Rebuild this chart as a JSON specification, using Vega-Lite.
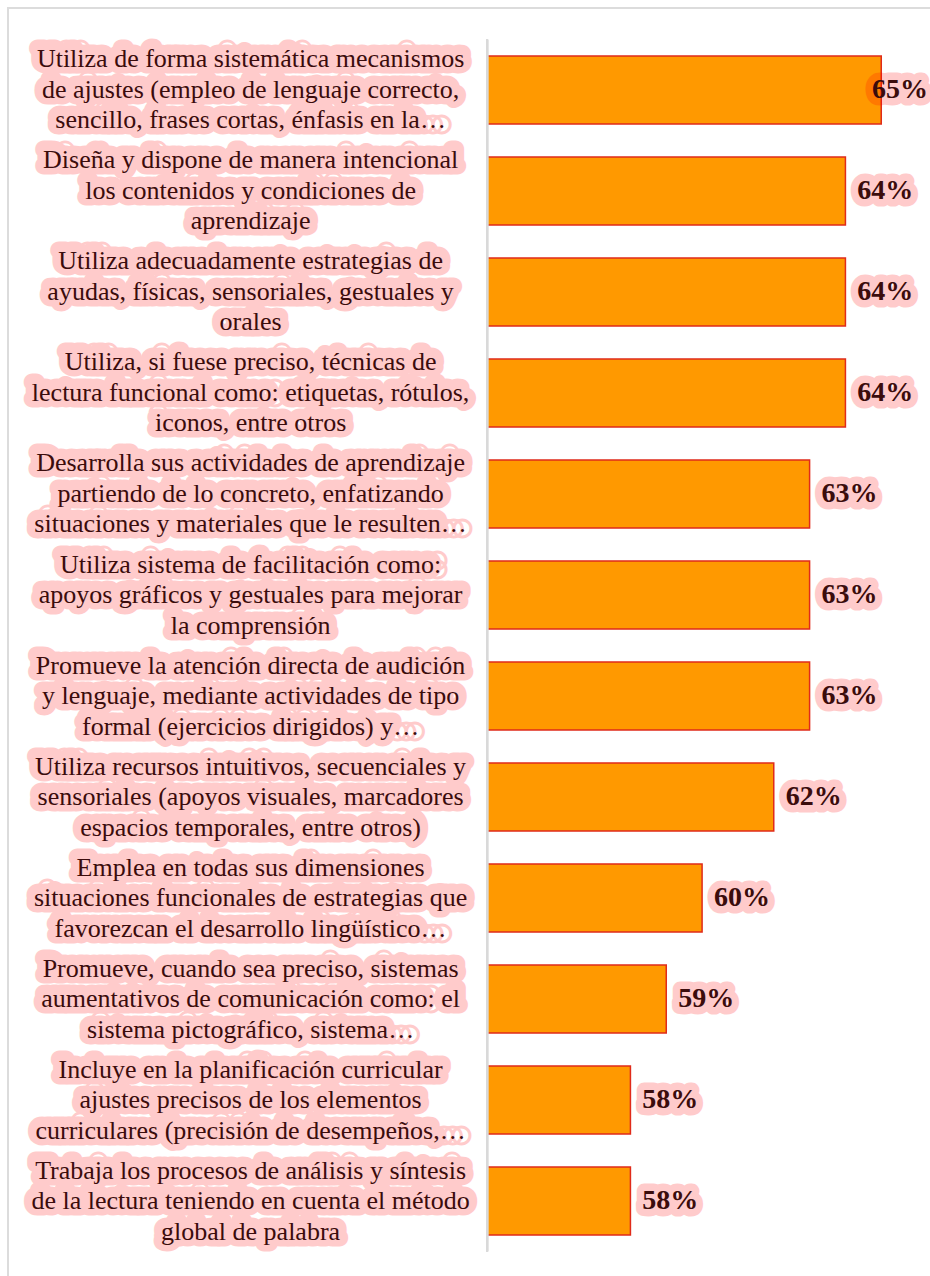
{
  "$schema": "https://vega.github.io/schema/vega-lite/v6.json",
  "width": 924,
  "height": 1270,
  "autosize": "none",
  "padding": {"left": 8, "top": 8, "right": 0, "bottom": 0},
  "background": "white",
  "config": {"view": {"stroke": "#dcdcdc", "strokeWidth": 2}},
  "data": {
    "values": [
      {"item": "Utiliza de forma sistemática mecanismos\nde ajustes (empleo de lenguaje correcto,\nsencillo, frases cortas, énfasis en la…", "pct": 0.65},
      {"item": "Diseña y dispone de manera intencional\nlos contenidos y condiciones de\naprendizaje", "pct": 0.64},
      {"item": "Utiliza adecuadamente estrategias de\nayudas, físicas, sensoriales, gestuales y\norales", "pct": 0.64},
      {"item": "Utiliza, si fuese preciso, técnicas de\nlectura funcional como: etiquetas, rótulos,\niconos, entre otros", "pct": 0.64},
      {"item": "Desarrolla sus actividades de aprendizaje\npartiendo de lo concreto, enfatizando\nsituaciones y materiales que le resulten…", "pct": 0.63},
      {"item": "Utiliza sistema de facilitación como:\napoyos gráficos y gestuales para mejorar\nla comprensión", "pct": 0.63},
      {"item": "Promueve la atención directa de audición\ny lenguaje, mediante actividades de tipo\nformal (ejercicios dirigidos) y…", "pct": 0.63},
      {"item": "Utiliza recursos intuitivos, secuenciales y\nsensoriales (apoyos visuales, marcadores\nespacios temporales, entre otros)", "pct": 0.62},
      {"item": "Emplea en todas sus dimensiones\nsituaciones funcionales de estrategias que\nfavorezcan el desarrollo lingüístico…", "pct": 0.60},
      {"item": "Promueve, cuando sea preciso, sistemas\naumentativos de comunicación como: el\nsistema pictográfico, sistema…", "pct": 0.59},
      {"item": "Incluye en la planificación curricular\najustes precisos de los elementos\ncurriculares (precisión de desempeños,…", "pct": 0.58},
      {"item": "Trabaja los procesos de análisis y síntesis\nde la lectura teniendo en cuenta el método\nglobal de palabra", "pct": 0.58}
    ]
  },
  "encoding": {
    "y": {
      "field": "item",
      "type": "nominal",
      "sort": null,
      "axis": null,
      "scale": {"paddingInner": 0.327, "paddingOuter": 0.4505, "align": 0.5275}
    }
  },
  "resolve": {"scale": {"x": "independent"}},
  "layer": [
    {
      "mark": {"type": "bar", "fill": "#ff9900", "stroke": "#e02b1a", "strokeWidth": 1.5},
      "encoding": {
        "x": {"field": "pct", "type": "quantitative", "axis": null, "scale": {"domain": [0.4063, 0.66416]}},
        "x2": {"datum": 0.54}
      }
    },
    {
      "mark": {"type": "text", "font": "Liberation Serif", "fontSize": 26, "lineHeight": 30.5, "lineBreak": "\n", "align": "center", "baseline": "middle", "fill": "#ff0000", "stroke": "#ff0000", "strokeWidth": 17, "strokeJoin": "round", "opacity": 0.2, "dy": -32.5},
      "encoding": {
        "x": {"datum": 0.474, "type": "quantitative", "axis": null, "scale": {"domain": [0.4063, 0.66416]}},
        "text": {"field": "item"}
      }
    },
    {
      "mark": {"type": "text", "font": "Liberation Serif", "fontSize": 26, "lineHeight": 30.5, "lineBreak": "\n", "align": "center", "baseline": "middle", "fill": "#3b0c0c", "dy": -30.5},
      "encoding": {
        "x": {"datum": 0.474, "type": "quantitative", "axis": null, "scale": {"domain": [0.4063, 0.66416]}},
        "text": {"field": "item"}
      }
    },
    {
      "mark": {"type": "text", "font": "Liberation Serif", "fontSize": 28, "fontWeight": "bold", "align": "left", "baseline": "middle", "dx": 12, "fill": "#ff0000", "stroke": "#ff0000", "strokeWidth": 15, "strokeJoin": "round", "opacity": 0.2},
      "encoding": {
        "x": {"field": "pct", "type": "quantitative", "axis": null, "scale": {"domain": [0.4063, 0.6441], "range": [0, 852], "clamp": true}},
        "text": {"field": "pct", "type": "quantitative", "format": ".0%"}
      }
    },
    {
      "mark": {"type": "text", "font": "Liberation Serif", "fontSize": 28, "fontWeight": "bold", "align": "left", "baseline": "middle", "dx": 12, "fill": "#3b0c0c"},
      "encoding": {
        "x": {"field": "pct", "type": "quantitative", "axis": null, "scale": {"domain": [0.4063, 0.6441], "range": [0, 852], "clamp": true}},
        "text": {"field": "pct", "type": "quantitative", "format": ".0%"}
      }
    },
    {
      "mark": {"type": "rule", "color": "#d9d9d9", "strokeWidth": 2, "yOffset": -16.5, "y2Offset": 16.5},
      "encoding": {
        "x": {"datum": 0.54, "type": "quantitative", "axis": null, "scale": {"domain": [0.4063, 0.66416]}},
        "y": {"datum": "Utiliza de forma sistemática mecanismos\nde ajustes (empleo de lenguaje correcto,\nsencillo, frases cortas, énfasis en la…", "type": "nominal", "bandPosition": 0},
        "y2": {"datum": "Trabaja los procesos de análisis y síntesis\nde la lectura teniendo en cuenta el método\nglobal de palabra", "bandPosition": 1}
      }
    }
  ]
}
